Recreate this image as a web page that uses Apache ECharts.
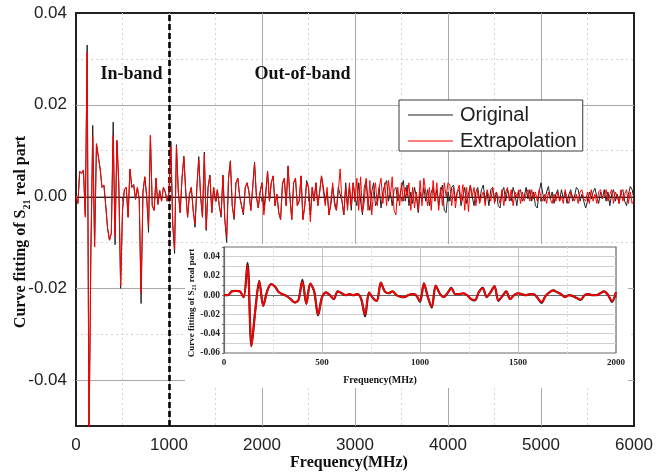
<!DOCTYPE html>
<html>
<head>
<meta charset="utf-8">
<script src="https://cdn.jsdelivr.net/npm/echarts@6/dist/echarts.min.js"></script>
<style>
  html, body { margin: 0; padding: 0; background: #fff; }
  #chart { width: 667px; height: 474px; }
</style>
</head>
<body>
<div id="chart"></div>
<script>
// Sampling step of the stored traces (MHz)
const freqStep = 20;

// Main plot: S21 real part, 0–6000 MHz, one value every freqStep
const originalS21 = [
  // 0 – 1000 MHz (in-band)
  0, -0.0015, 0.0055, 0.005, 0.0058, -0.004, 0.033, -0.053, -0.012, 0.0155,
  -0.011, 0.0115, 0.0115, 0.006, 0.002, 0.0025, -0.002, -0.007, -0.0095, -0.008,
  0.0162, -0.0105, 0.0122, 0.003, -0.020, -0.003, 0.0015, 0.002, -0.0045, 0.006,
  0.002, 0.0026, -0.0006, 0.002, -0.0007, -0.0233, 0.001, 0.0043, 0.0, -0.0078,
  0.0133, -0.002, -0.003, 0.004, -0.0017, 0.0013, -0.001, 0.002, 0.001, -0.001,
  0.001,
  // 1020 – 2000 MHz
  0.012, -0.006, -0.0124, 0.0113, 0.001, -0.0035, 0.004, 0.0088, 0.001, -0.0045,
  0.0005, 0.002, -0.003, -0.0067, 0.002, 0.0087, 0.0, -0.0045, 0.0097, -0.0074,
  0.002, 0.0047, -0.0035, 0.002, -0.001, 0.0015, -0.002, -0.0045, 0.0047, -0.005,
  -0.010, 0.004, 0.0078, -0.002, -0.005, 0.003, 0.004, 0.0, -0.002, -0.004,
  0.002, 0.003, 0.001, -0.003, 0.002, 0.0075, 0.0, -0.0025, 0.001, 0.003,
  // 2020 – 3000 MHz
  -0.003, 0.001, 0.0055, -0.001, 0.003, 0.0045, -0.002, 0.0005, -0.0035, -0.005,
  0.003, 0.004, -0.002, 0.0067, 0.0, -0.005, 0.003, 0.004, -0.002, -0.001,
  0.0045, -0.005, -0.002, 0.0035, 0.002, -0.004, 0.002, -0.001, 0.003, -0.002,
  0.001, 0.0045, 0.002, -0.001, 0.001, -0.004, -0.002, 0.002, -0.001, -0.003,
  0.002, 0.002, -0.001, -0.004, 0.003, -0.002, 0.002, -0.003, 0.003, 0.0,
  // 3020 – 4000 MHz
  -0.002, 0.003, -0.001, -0.004, 0.002, 0.0035, -0.001, -0.003, 0.001, 0.003,
  -0.002, -0.001, 0.002, -0.0025, 0.001, 0.0025, 0.0035, -0.001, 0.001, -0.002,
  0.0015, 0.002, -0.001, 0.0, 0.002, 0.0035, -0.001, 0.0025, -0.002, 0.001,
  -0.0015, 0.002, 0.0, -0.0035, 0.001, -0.001, 0.002, -0.001, 0.0015, -0.002,
  0.001, 0.002, -0.001, 0.0015, -0.002, 0.001, 0.0025, -0.003, -0.0035, 0.001,
  // 4020 – 5000 MHz
  -0.001, 0.002, 0.0025, -0.001, 0.001, 0.0015, -0.002, 0.0, 0.002, -0.0015,
  0.0005, 0.0025, 0.0, -0.002, 0.001, 0.002, -0.001, 0.0015, 0.0025, -0.001,
  0.001, -0.002, 0.0015, 0.002, -0.0005, 0.001, -0.002, -0.0025, 0.001, 0.002,
  -0.001, 0.0015, 0.0, -0.001, 0.002, 0.0005, -0.002, 0.001, 0.0015, -0.001,
  0.0, 0.002, -0.0005, 0.0015, -0.001, 0.001, -0.002, -0.0025, 0.001, 0.003,
  // 5020 – 6000 MHz
  0.0005, -0.001, 0.001, 0.0022, -0.0005, 0.001, -0.0015, 0.0005, 0.0015, -0.001,
  0.0015, -0.0005, 0.001, -0.0015, 0.0005, 0.0015, -0.001, 0.0, 0.002, 0.0015,
  -0.001, 0.0005, -0.001, -0.0025, -0.001, 0.001, -0.0005, 0.001, 0.0018, 0.0,
  -0.0015, 0.001, -0.0005, 0.0015, -0.001, 0.001, -0.002, 0.0005, 0.0015, -0.001,
  0.0005, -0.0015, 0.001, 0.0015, -0.001, -0.002, 0.0005, 0.0022, 0.0015, -0.0005
];

const extrapolatedS21 = [
  // 0 – 1000 MHz (in-band)
  0, -0.0015, 0.0055, 0.005, 0.0058, -0.0045, 0.0315, -0.053, -0.012, 0.013,
  -0.011, 0.0115, 0.0115, 0.006, 0.002, 0.0025, -0.002, -0.007, -0.0095, -0.008,
  0.0133, -0.0087, 0.0122, 0.003, -0.0195, -0.003, 0.0015, 0.002, -0.0045, 0.006,
  0.002, 0.0026, -0.0006, 0.002, -0.0007, -0.021, 0.001, 0.0043, 0.0, -0.0065,
  0.0133, -0.002, -0.003, 0.004, -0.0017, 0.0013, -0.001, 0.002, 0.001, -0.001,
  0.001,
  // 1020 – 2000 MHz
  0.011, -0.006, -0.0115, 0.011, 0.001, -0.0035, 0.004, 0.0085, 0.001, -0.0045,
  0.0005, 0.002, -0.003, -0.006, 0.002, 0.008, 0.0, -0.0045, 0.0092, -0.007,
  0.002, 0.0045, -0.0035, 0.002, -0.001, 0.0015, -0.002, -0.004, 0.0045, -0.005,
  -0.0088, 0.004, 0.0075, -0.002, -0.0045, 0.003, 0.004, 0.0, -0.002, -0.0035,
  0.002, 0.003, 0.001, -0.003, 0.002, 0.0072, 0.0, -0.0025, 0.001, 0.003,
  // 2020 – 3000 MHz
  -0.004, 0.0, 0.0055, -0.001, 0.003, 0.0045, -0.002, 0.0005, -0.0035, -0.005,
  0.0025, 0.004, -0.002, 0.0065, 0.0, -0.005, 0.003, 0.004, -0.002, -0.001,
  0.0045, -0.005, -0.002, 0.003, 0.002, -0.0055, 0.002, -0.001, 0.003, -0.002,
  0.001, 0.0045, 0.001, -0.002, 0.002, -0.004, -0.001, 0.003, -0.002, -0.003,
  0.001, 0.006, -0.001, -0.004, 0.002, -0.003, 0.003, -0.002, 0.003, -0.001,
  // 3020 – 4000 MHz
  0.004, -0.003, 0.0043, -0.0035, -0.001, 0.004, -0.003, 0.0035, -0.004, 0.001,
  0.003, -0.002, 0.002, 0.004, -0.0015, 0.003, -0.002, 0.0035, 0.0, 0.0043,
  -0.003, -0.004, 0.002, -0.002, 0.003, -0.001, 0.002, 0.0, 0.003, -0.003,
  0.002, -0.0025, 0.001, -0.003, 0.0035, -0.002, 0.004, 0.0042, -0.002, 0.002,
  -0.003, 0.0035, -0.001, 0.003, -0.003, 0.002, -0.002, 0.003, 0.0, 0.003,
  // 4020 – 5000 MHz
  0.0025, -0.002, 0.002, -0.0025, 0.001, 0.0025, -0.001, 0.0026, -0.003, 0.002,
  -0.0033, 0.0025, 0.0, 0.002, -0.002, 0.0015, -0.0015, 0.0, 0.001, -0.002,
  0.0015, 0.0, -0.001, 0.002, -0.0015, 0.001, 0.0, -0.0015, 0.0015, -0.002,
  0.001, 0.002, -0.001, 0.0015, -0.002, 0.001, 0.0, 0.0015, -0.0015, 0.001,
  -0.001, 0.0005, 0.0015, -0.001, 0.0015, -0.0005, 0.001, -0.001, 0.0015, 0.0,
  // 5020 – 6000 MHz
  -0.001, 0.0005, -0.0015, 0.001, -0.0005, -0.0015, 0.0005, -0.001, 0.001, -0.001,
  0.0, -0.0015, 0.0015, -0.0005, -0.0015, 0.001, 0.0, -0.001, 0.0005, -0.0015,
  0.001, 0.0015, -0.0005, -0.001, 0.001, -0.0015, 0.0015, -0.001, 0.0005, -0.0015,
  0.001, 0.0015, -0.0005, 0.0, 0.0015, -0.001, 0.0005, 0.0015, -0.0015, 0.001,
  0.0, -0.0015, 0.0015, -0.001, 0.0005, 0.0015, -0.0015, 0.001, -0.0015, -0.001
];

// Inset: 0–2000 MHz close-up, one value every freqStep
const insetOriginal = [
  0, 0, 0.004, 0.0045, 0.004, -0.002, 0.0335, -0.053, -0.015, 0.015,
  -0.011, 0.004, 0.0115, 0.009, 0.003, 0.001, -0.001, -0.004, -0.0075, -0.005,
  0.016, -0.009, 0.012, 0.004, -0.021, -0.002, 0.003, 0.0, -0.004, 0.004,
  0.002, 0.0, 0.001, 0.0, 0.001, -0.004, -0.022, 0.003, -0.003, -0.006,
  0.013, 0.004, 0.002, 0.004, 0.0, -0.0015, -0.002, 0.0, 0.001, 0.0,
  -0.007, 0.0123, -0.002, -0.013, 0.010, 0.002, -0.002, 0.002, 0.0075, 0.001,
  0.001, 0.002, 0.0, -0.004, -0.0055, 0.003, 0.0075, -0.002, 0.003, 0.0095,
  -0.006, -0.001, 0.004, -0.004, 0.0, 0.002, 0.001, 0.0, 0.001, 0.001,
  -0.003, -0.008, -0.001, 0.003, 0.005, 0.003, 0.001, -0.002, 0.0, -0.001,
  -0.003, -0.005, 0.0, 0.001, 0.0, 0.0, 0.002, 0.004, 0.0, -0.007,
  0.003
];
const insetExtrapolated = [
  0, 0, 0.004, 0.0045, 0.004, -0.002, 0.031, -0.053, -0.015, 0.014,
  -0.011, 0.004, 0.0115, 0.009, 0.003, 0.001, -0.001, -0.004, -0.0075, -0.005,
  0.014, -0.009, 0.012, 0.004, -0.020, -0.002, 0.003, 0.0, -0.004, 0.004,
  0.002, 0.0, 0.001, 0.0, 0.001, -0.004, -0.020, 0.003, -0.003, -0.006,
  0.013, 0.004, 0.002, 0.004, 0.0, -0.0015, -0.002, 0.0, 0.001, 0.0,
  -0.006, 0.012, -0.002, -0.012, 0.010, 0.002, -0.002, 0.002, 0.0072, 0.001,
  0.001, 0.002, 0.0, -0.004, -0.005, 0.003, 0.007, -0.002, 0.003, 0.009,
  -0.0055, -0.001, 0.004, -0.004, 0.0, 0.002, 0.001, 0.0, 0.001, 0.001,
  -0.003, -0.007, -0.001, 0.003, 0.005, 0.003, 0.001, -0.002, 0.0, -0.001,
  -0.003, -0.0045, 0.0, 0.001, 0.0, 0.0, 0.002, 0.004, 0.0, -0.006,
  0.003
];

// Labelled (major) y levels of the main plot
const mainMajorY = [-0.04, -0.02, 0.00, 0.02];

// Band boundary (MHz) and text labels
const bandEdge = 1000;
const seriesNames = ['Original', 'Extrapolation'];
const regionLabels = ['In-band', 'Out-of-band'];
const xTitle = 'Frequency(MHz)';

const toPairs = vals => vals.map((v, i) => [i * freqStep, v]);

const SANS = 'Liberation Sans';
const SERIF = 'Liberation Serif';
const BLACK_LINE = '#222222';
const RED_LINE = '#ff0000';

// Show only even hundredths on axes stepped by 0.01
function evenHundredths(v) {
  const r = Math.round(v * 100);
  if (r % 2 !== 0) return '';
  return (r / 100).toFixed(2);
}
const plainNumber = v => String(v);

const chart = echarts.init(document.getElementById('chart'), null, { renderer: 'canvas' });

const option = {
  animation: false,
  backgroundColor: '#ffffff',
  grid: [
    { left: 76, top: 13, width: 558, height: 413, outerBoundsMode: 'none', containLabel: false,
      show: true, borderColor: '#222', borderWidth: 2, backgroundColor: 'transparent' },
    { left: 224, top: 247, width: 392, height: 106, outerBoundsMode: 'none', containLabel: false,
      show: true, borderColor: '#6a6a6a', borderWidth: 1.2, backgroundColor: '#fff', z: 6 }
  ],
  legend: {
    data: seriesNames,
    orient: 'vertical',
    left: 399,
    top: 100,
    icon: 'rect',
    itemWidth: 45,
    itemHeight: 1,
    itemGap: 6,
    padding: [5, 6, 0, 9],
    backgroundColor: '#ffffff',
    borderColor: '#3a3a3a',
    borderWidth: 1,
    textStyle: { fontFamily: SANS, fontSize: 20, color: '#222', padding: [0, 0, 0, 2] },
    z: 4
  },
  xAxis: [
    {
      gridIndex: 0, type: 'value', min: 0, max: 6000, interval: 1000, position: 'bottom',
      axisLine: { show: true, lineStyle: { color: '#222', width: 2 } },
      axisTick: { show: true, inside: false, length: 5, lineStyle: { color: '#222', width: 1.5 } },
      minorTick: { show: true, splitNumber: 2, length: 5, lineStyle: { color: '#222', width: 1.5 } },
      axisLabel: { fontFamily: SANS, fontSize: 17, color: '#222', margin: 11, formatter: plainNumber },
      splitLine: { show: true, showMinLine: false, showMaxLine: false, lineStyle: { color: '#a9a9a9', width: 1 } },
      minorSplitLine: { show: true, lineStyle: { color: '#d4d4d4', width: 1, type: [2, 3] } }
    },
    {
      gridIndex: 1, type: 'value', min: 0, max: 2000, interval: 500, position: 'bottom', z: 6,
      axisLine: { show: true, lineStyle: { color: '#6a6a6a', width: 1.2 } },
      axisTick: { show: true, inside: false, length: 3, lineStyle: { color: '#6a6a6a' } },
      minorTick: { show: true, splitNumber: 2, length: 2, lineStyle: { color: '#6a6a6a' } },
      axisLabel: { fontFamily: SERIF, fontWeight: 'bold', fontSize: 9, color: '#222', margin: 5, formatter: plainNumber },
      splitLine: { show: true, showMinLine: false, showMaxLine: false, lineStyle: { color: '#c4c4c4', width: 1 } },
      minorSplitLine: { show: true, lineStyle: { color: '#dedede', width: 1, type: [2, 2] } }
    }
  ],
  yAxis: [
    {
      gridIndex: 0, type: 'value', min: -0.05, max: 0.04, interval: 0.01, position: 'left',
      axisLine: { show: true, lineStyle: { color: '#222', width: 2 } },
      axisTick: { show: false },
      axisLabel: { fontFamily: SANS, fontSize: 17, color: '#222', margin: 9, formatter: evenHundredths },
      splitLine: { show: true, showMinLine: false, showMaxLine: false, lineStyle: { color: '#d4d4d4', width: 1, type: [2, 3] } }
    },
    {
      gridIndex: 1, type: 'value', min: -0.06, max: 0.05, interval: 0.01, position: 'left', z: 6,
      axisLine: { show: true, lineStyle: { color: '#6a6a6a', width: 1.2 } },
      axisTick: { show: true, inside: false, length: 2, lineStyle: { color: '#6a6a6a' } },
      axisLabel: { fontFamily: SERIF, fontWeight: 'bold', fontSize: 9.5, color: '#222', margin: 4, formatter: evenHundredths },
      splitLine: { show: true, showMinLine: false, showMaxLine: false, lineStyle: { color: '#cfcfcf', width: 1 } }
    }
  ],
  series: [
    {
      // solid grid lines at the labelled y levels, kept under the traces
      name: 'majorGrid', type: 'line', xAxisIndex: 0, yAxisIndex: 0, data: [], z: 1,
      markLine: {
        z: 1, silent: true, symbol: 'none', label: { show: false }, animation: false,
        lineStyle: { color: '#a9a9a9', width: 1, type: 'solid' },
        data: mainMajorY.map(v => ({ yAxis: v }))
      }
    },
    {
      name: seriesNames[0], type: 'line', xAxisIndex: 0, yAxisIndex: 0,
      data: toPairs(originalS21), symbol: 'none', z: 2,
      lineStyle: { color: BLACK_LINE, width: 1 }, itemStyle: { color: BLACK_LINE },
      markLine: {
        z: 3, silent: true, symbol: 'none', label: { show: false },
        lineStyle: { color: '#000', width: 2.6, type: [6, 3] },
        data: [{ xAxis: bandEdge }]
      }
    },
    {
      name: seriesNames[1], type: 'line', xAxisIndex: 0, yAxisIndex: 0,
      data: toPairs(extrapolatedS21), symbol: 'none', z: 3,
      lineStyle: { color: RED_LINE, width: 1 }, itemStyle: { color: RED_LINE }
    },
    {
      name: 'insetOriginal', type: 'line', xAxisIndex: 1, yAxisIndex: 1,
      data: toPairs(insetOriginal), symbol: 'none', smooth: 0.3, z: 7,
      lineStyle: { color: BLACK_LINE, width: 2.2 }, itemStyle: { color: BLACK_LINE }
    },
    {
      name: 'insetExtrapolated', type: 'line', xAxisIndex: 1, yAxisIndex: 1,
      data: toPairs(insetExtrapolated), symbol: 'none', smooth: 0.3, z: 8,
      lineStyle: { color: RED_LINE, width: 1.8 }, itemStyle: { color: RED_LINE }
    }
  ],
  graphic: [
    // white panel behind the inset
    { type: 'rect', z: 5, silent: true,
      shape: { x: 185, y: 244, width: 443, height: 144 },
      style: { fill: '#ffffff' } },
    { type: 'text', z: 10, x: 131.5, y: 74, silent: true,
      style: { text: regionLabels[0], fontFamily: SERIF, fontWeight: 'bold', fontSize: 18, fill: '#111',
               align: 'center', verticalAlign: 'middle' } },
    { type: 'text', z: 10, x: 302.5, y: 74, silent: true,
      style: { text: regionLabels[1], fontFamily: SERIF, fontWeight: 'bold', fontSize: 18, fill: '#111',
               align: 'center', verticalAlign: 'middle' } },
    { type: 'text', z: 10, x: 349, y: 463, silent: true,
      style: { text: xTitle, fontFamily: SERIF, fontWeight: 'bold', fontSize: 16, fill: '#111',
               align: 'center', verticalAlign: 'middle' } },
    { type: 'text', z: 10, x: 21, y: 232, rotation: Math.PI / 2, silent: true,
      style: {
        text: '{a|Curve fitting of S}{b|21}{a| real part}',
        align: 'center', verticalAlign: 'middle',
        rich: {
          a: { fontFamily: SERIF, fontWeight: 'bold', fontSize: 16, lineHeight: 22, fill: '#111' },
          b: { fontFamily: SERIF, fontWeight: 'bold', fontSize: 10, lineHeight: 10, fill: '#111', verticalAlign: 'bottom' }
        }
      } },
    { type: 'text', z: 10, x: 191.5, y: 303, rotation: Math.PI / 2, silent: true,
      style: {
        text: '{a|Curve fitting of S}{b|21}{a| real part}',
        align: 'center', verticalAlign: 'middle',
        rich: {
          a: { fontFamily: SERIF, fontWeight: 'bold', fontSize: 9, lineHeight: 12, fill: '#111' },
          b: { fontFamily: SERIF, fontWeight: 'bold', fontSize: 6, lineHeight: 6, fill: '#111', verticalAlign: 'bottom' }
        }
      } },
    { type: 'text', z: 10, x: 380, y: 380, silent: true,
      style: { text: xTitle, fontFamily: SERIF, fontWeight: 'bold', fontSize: 10, fill: '#111',
               align: 'center', verticalAlign: 'middle' } }
  ]
};

chart.setOption(option);
</script>
</body>
</html>
